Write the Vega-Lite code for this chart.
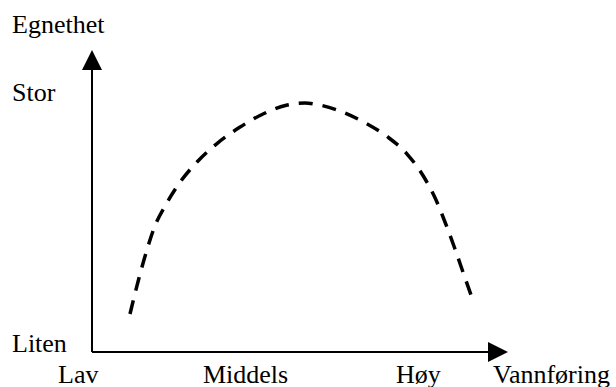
{
  "$schema": "https://vega.github.io/schema/vega-lite/v6.json",
  "width": 416,
  "height": 302,
  "autosize": {"type": "none"},
  "padding": {"left": 92, "top": 50, "right": 108, "bottom": 35},
  "background": "white",
  "config": {"view": {"stroke": null}},
  "datasets": {
    "curve": [
      {"q": 0.913, "e": 1.258},
      {"q": 1.123, "e": 2.417},
      {"q": 1.291, "e": 3.245},
      {"q": 1.490, "e": 4.096},
      {"q": 1.772, "e": 4.868},
      {"q": 2.115, "e": 5.619},
      {"q": 2.531, "e": 6.301},
      {"q": 3.012, "e": 6.911},
      {"q": 3.550, "e": 7.440},
      {"q": 4.111, "e": 7.881},
      {"q": 4.695, "e": 8.179},
      {"q": 5.120, "e": 8.245},
      {"q": 5.385, "e": 8.202},
      {"q": 5.962, "e": 7.980},
      {"q": 6.563, "e": 7.593},
      {"q": 7.099, "e": 7.129},
      {"q": 7.579, "e": 6.546},
      {"q": 7.964, "e": 5.828},
      {"q": 8.262, "e": 5.056},
      {"q": 8.510, "e": 4.215},
      {"q": 8.726, "e": 3.411},
      {"q": 8.942, "e": 2.550},
      {"q": 9.111, "e": 1.887}
    ],
    "axislines": [
      {"x": 0, "y": 0, "x2": 0, "y2": 9.669},
      {"x": 0, "y": 0, "x2": 9.76, "y2": 0}
    ],
    "arrows": [
      {"x": 0, "y": 9.669, "dir": "up"},
      {"x": 9.76, "y": 0, "dir": "right"}
    ],
    "labels": [
      {"x": -1.923, "y": 10.553, "label": "Egnethet"},
      {"x": -1.923, "y": 8.311, "label": "Stor"},
      {"x": -1.923, "y": 0, "label": "Liten"},
      {"x": -0.817, "y": -1.026, "label": "Lav"},
      {"x": 2.668, "y": -1.026, "label": "Middels"},
      {"x": 7.308, "y": -1.026, "label": "Høy"},
      {"x": 9.639, "y": -1.026, "label": "Vannføring"}
    ]
  },
  "layer": [
    {
      "data": {"name": "axislines"},
      "mark": {"type": "rule", "color": "black", "strokeWidth": 2},
      "encoding": {
        "x": {"field": "x", "type": "quantitative", "scale": {"domain": [0, 10], "nice": false, "zero": false}, "axis": null},
        "y": {"field": "y", "type": "quantitative", "scale": {"domain": [0, 10], "nice": false, "zero": false}, "axis": null},
        "x2": {"field": "x2"},
        "y2": {"field": "y2"}
      }
    },
    {
      "data": {"name": "arrows"},
      "mark": {"type": "point", "filled": true, "color": "black", "size": 400, "opacity": 1, "strokeWidth": 0},
      "encoding": {
        "x": {"field": "x", "type": "quantitative", "scale": {"domain": [0, 10], "nice": false, "zero": false}, "axis": null},
        "y": {"field": "y", "type": "quantitative", "scale": {"domain": [0, 10], "nice": false, "zero": false}, "axis": null},
        "shape": {"field": "dir", "type": "nominal", "scale": {"domain": ["up", "right"], "range": ["M0,-1L1,1L-1,1Z", "M1,0L-1,1L-1,-1Z"]}, "legend": null}
      }
    },
    {
      "data": {"name": "curve"},
      "mark": {"type": "line", "color": "black", "strokeWidth": 3.5, "strokeDash": [14, 10], "interpolate": "monotone", "strokeCap": "butt"},
      "encoding": {
        "x": {"field": "q", "type": "quantitative", "scale": {"domain": [0, 10], "nice": false, "zero": false}, "axis": null},
        "y": {"field": "e", "type": "quantitative", "scale": {"domain": [0, 10], "nice": false, "zero": false}, "axis": null}
      }
    },
    {
      "data": {"name": "labels"},
      "mark": {"type": "text", "font": "Liberation Serif", "fontSize": 26, "align": "left", "baseline": "alphabetic", "color": "black"},
      "encoding": {
        "x": {"field": "x", "type": "quantitative", "scale": {"domain": [0, 10], "nice": false, "zero": false}, "axis": null},
        "y": {"field": "y", "type": "quantitative", "scale": {"domain": [0, 10], "nice": false, "zero": false}, "axis": null},
        "text": {"field": "label"}
      }
    }
  ]
}
